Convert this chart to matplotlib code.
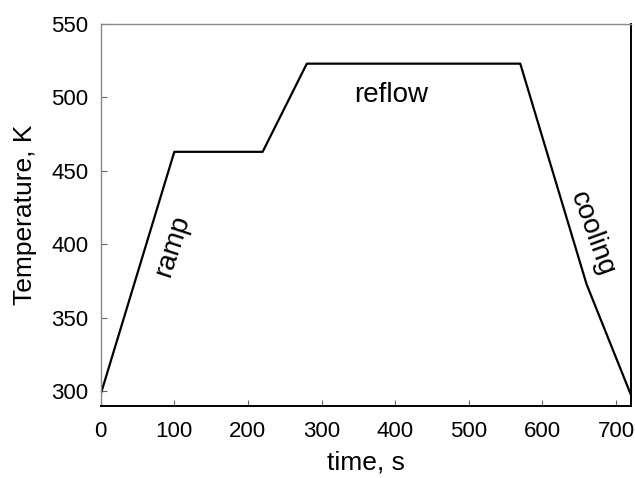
import matplotlib.pyplot as plt

plt.rcParams['font.family'] = ['Liberation Sans', 'DejaVu Sans']

time_s = [0, 100, 220, 280, 570, 660, 720]
temp_k = [298, 463, 463, 523, 523, 373, 298]
x_ticks = [0, 100, 200, 300, 400, 500, 600, 700]
y_ticks = [300, 350, 400, 450, 500, 550]

fig = plt.figure(figsize=(6.35, 4.78), dpi=100)
ax = fig.add_axes([0.1586, 0.1506, 0.8346, 0.7992])
ax.plot(time_s, temp_k, color='black', lw=1.6)

ax.set_xlim(0, 720)
ax.set_ylim(290, 550)
ax.set_xticks(x_ticks)
ax.set_yticks(y_ticks)
ax.tick_params(direction='in', length=4, width=0.8, color='#666666', labelsize=16)
ax.tick_params(axis='x', pad=11)
ax.tick_params(axis='y', pad=9)

for s in ['left', 'top']:
    ax.spines[s].set_color('#888888')
    ax.spines[s].set_linewidth(1.0)
for s in ['bottom', 'right']:
    ax.spines[s].set_color('black')
    ax.spines[s].set_linewidth(1.4)

ax.set_xlabel('time, s', fontsize=19, labelpad=6)
ax.set_ylabel('Temperature, K', fontsize=19, labelpad=10)

ax.text(97, 399, 'ramp', fontsize=20, rotation=72, ha='center', va='center')
ax.text(394, 502, 'reflow', fontsize=20, ha='center', va='center')
ax.text(668, 407, 'cooling', fontsize=20, rotation=-70, ha='center', va='center')

fig.savefig('out.png', dpi=100)
